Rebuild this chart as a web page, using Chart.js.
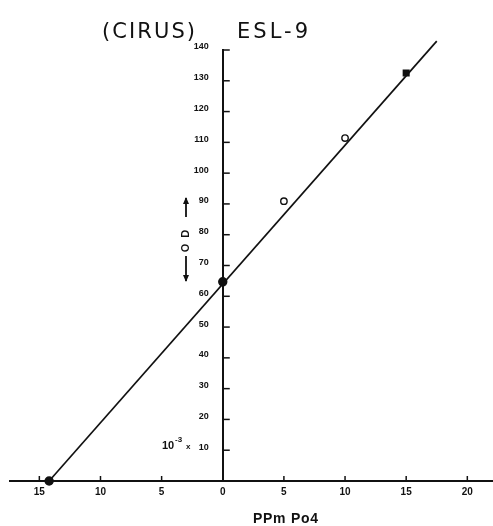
<!DOCTYPE html>
<html>
<head>
<meta charset="utf-8">
<script src="https://cdn.jsdelivr.net/npm/chart.js@4.4.1/dist/chart.umd.min.js"></script>
<style>
  html, body { margin: 0; padding: 0; background: #fff; }
  canvas { display: block; }
</style>
</head>
<body>
<canvas id="chart" width="493" height="526"></canvas>
<script>
// measured points (ppm PO4 vs O.D. x 10^-3)
const ppm = [-14.2, 0, 5, 10, 15];
const od = [0, 64.7, 90.9, 111.4, 132.5];
const markers = ["circle", "circle", "circle", "circle", "rect"];
const filled = [true, true, false, false, true];

// fitted straight line, end points as drawn
const fitX = [-14.2, 17.5];
const fitY = [0, 142.9];

const xRange = [-17.4, 22.1];
const yRange = [0, 140];

const ink = "#111";

const extras = {
  id: "extras",
  afterDraw(chart) {
    const { ctx, scales } = chart;
    const x = scales.x, y = scales.y;
    const x0 = x.getPixelForValue(0);
    const y0 = y.getPixelForValue(0);
    ctx.save();
    ctx.strokeStyle = ink;
    ctx.fillStyle = ink;
    ctx.lineWidth = 1.5;

    // y ticks: marks right of the axis, labels left of it
    ctx.font = "bold 9px 'Liberation Sans'";
    ctx.textAlign = "right";
    ctx.textBaseline = "middle";
    y.ticks.forEach(t => {
      if (t.value === 0) return;
      const py = y.getPixelForValue(t.value);
      ctx.beginPath();
      ctx.moveTo(x0, py);
      ctx.lineTo(x0 + 7, py);
      ctx.stroke();
      ctx.fillText(String(t.value), x0 - 14, py - 3);
    });

    // x ticks: marks above the axis, labels below (absolute values)
    ctx.font = "bold 10px 'Liberation Sans'";
    ctx.textAlign = "center";
    ctx.textBaseline = "middle";
    x.ticks.forEach(t => {
      const px = x.getPixelForValue(t.value);
      if (t.value !== 0) {
        ctx.beginPath();
        ctx.moveTo(px, y0);
        ctx.lineTo(px, y0 - 5);
        ctx.stroke();
      }
      ctx.fillText(String(Math.abs(t.value)), px, y0 + 11);
    });

    const fitText = (txt, left, base, width, font) => {
      ctx.font = font;
      ctx.letterSpacing = "0px";
      const w = ctx.measureText(txt).width;
      const sp = Math.max(0, (width - w) / (txt.length - 1));
      ctx.letterSpacing = sp + "px";
      ctx.textAlign = "left";
      ctx.textBaseline = "alphabetic";
      ctx.fillText(txt, left, base);
      ctx.letterSpacing = "0px";
    };

    // title
    fitText("(CIRUS)", 102, 38, 93, "21px 'DejaVu Sans'");
    fitText("ESL-9", 237, 38, 71, "21px 'DejaVu Sans'");

    // x axis title
    fitText("PPm Po4", 253, 523, 65, "bold 14px 'Liberation Sans'");

    // 10^-3 x prefix next to the "10" label
    const p10 = y.getPixelForValue(10);
    ctx.textAlign = "left";
    ctx.textBaseline = "middle";
    ctx.font = "bold 11px 'Liberation Sans'";
    ctx.fillText("10", 162, p10 - 4);
    ctx.font = "bold 8px 'Liberation Sans'";
    ctx.fillText("-3", 175, p10 - 10);
    ctx.font = "bold 8px 'Liberation Sans'";
    ctx.fillText("x", 186, p10 - 3);

    // O.D. label with arrows
    ctx.save();
    ctx.translate(186, 241);
    ctx.rotate(-Math.PI / 2);
    ctx.font = "bold 11px 'Liberation Sans'";
    ctx.textAlign = "center";
    ctx.textBaseline = "middle";
    ctx.fillText("O  D", 0, 0);
    ctx.restore();
    ctx.lineWidth = 1.8;
    ctx.beginPath();
    ctx.moveTo(186, 217); ctx.lineTo(186, 198);
    ctx.moveTo(186, 256); ctx.lineTo(186, 281);
    ctx.stroke();
    ctx.beginPath();
    ctx.moveTo(183, 204); ctx.lineTo(186, 197); ctx.lineTo(189, 204); ctx.closePath();
    ctx.moveTo(183, 275); ctx.lineTo(186, 282); ctx.lineTo(189, 275); ctx.closePath();
    ctx.fill();

    ctx.restore();
  }
};

const axisCommon = {
  type: "linear",
  grid: { drawOnChartArea: false, drawTicks: false },
  border: { color: ink, width: 2 }
};

new Chart(document.getElementById("chart"), {
  type: "scatter",
  data: {
    datasets: [
      {
        label: "fit",
        data: fitX.map((v, i) => ({ x: v, y: fitY[i] })),
        showLine: true,
        borderColor: ink,
        borderWidth: 1.7,
        pointRadius: 0,
        clip: false
      },
      {
        label: "measured",
        data: ppm.map((v, i) => ({ x: v, y: od[i] })),
        showLine: false,
        pointStyle: markers,
        pointRadius: [4, 4, 3.2, 3.2, 4],
        pointBackgroundColor: filled.map(f => (f ? ink : "#fff")),
        pointBorderColor: ink,
        pointBorderWidth: 1.4,
        clip: false
      }
    ]
  },
  options: {
    responsive: false,
    animation: false,
    devicePixelRatio: 1,
    layout: { autoPadding: false, padding: { top: 50, bottom: 45, left: 10, right: 0 } },
    plugins: { legend: { display: false }, tooltip: { enabled: false } },
    scales: {
      x: {
        ...axisCommon,
        position: { y: 0 },
        min: xRange[0],
        max: xRange[1],
        afterFit: s => { s.height = 0; },
        ticks: { display: false, stepSize: 5, includeBounds: false }
      },
      y: {
        ...axisCommon,
        position: { x: 0 },
        min: yRange[0],
        max: yRange[1],
        afterFit: s => { s.width = 0; },
        ticks: { display: false, stepSize: 10, includeBounds: false }
      }
    }
  },
  plugins: [extras]
});
</script>
</body>
</html>
